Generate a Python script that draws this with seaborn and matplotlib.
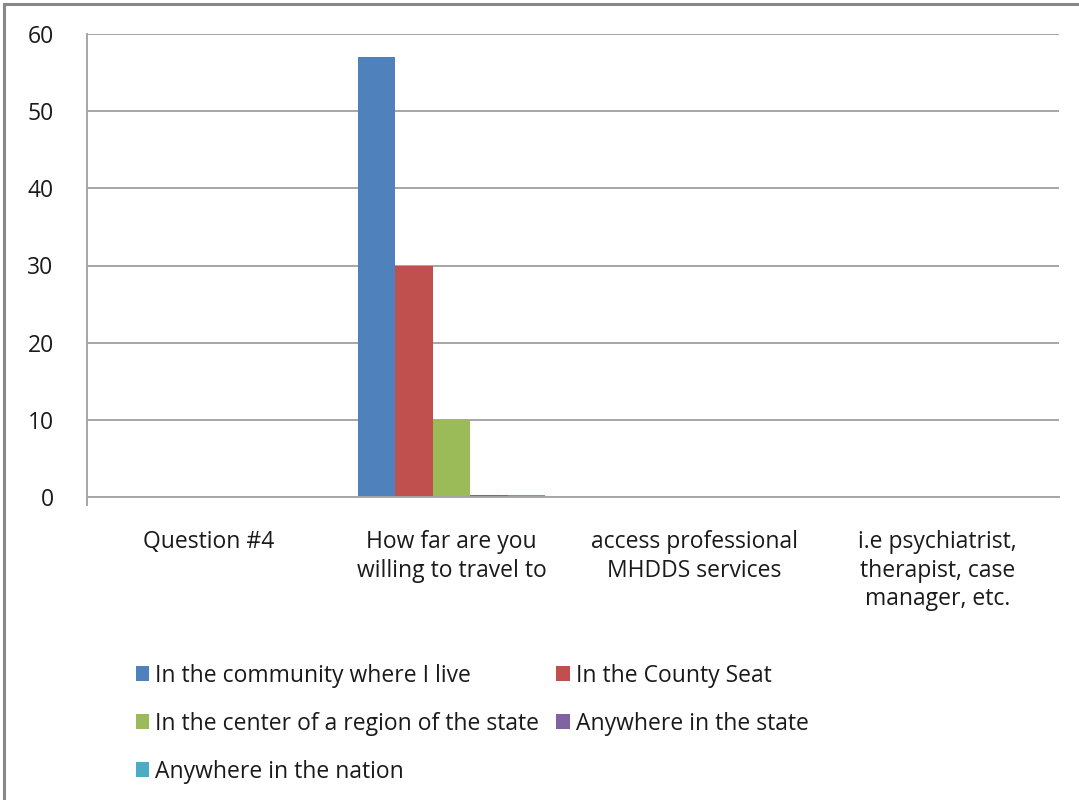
import matplotlib
matplotlib.use("Agg")
import matplotlib.pyplot as plt
from matplotlib.patches import Rectangle
from matplotlib.ticker import FixedLocator
import seaborn as sns
import pandas as pd

questions = [
    "Question #4",
    "How far are you\nwilling to travel to",
    "access professional\nMHDDS services",
    "i.e psychiatrist,\ntherapist, case\nmanager, etc.",
]
options = [
    "In the community where I live",
    "In the County Seat",
    "In the center of a region of the state",
    "Anywhere in the state",
    "Anywhere in the nation",
]
colors = ["#4F81BD", "#C0504D", "#9BBB59", "#8064A2", "#4BACC6"]
# responses per option for each question line
community = [0, 57, 0, 0]
county_seat = [0, 30, 0, 0]
region_center = [0, 10, 0, 0]
anywhere_state = [0, 0.2, 0, 0]
anywhere_nation = [0, 0.2, 0, 0]
y_ticks = [0, 10, 20, 30, 40, 50, 60]

series = [community, county_seat, region_center, anywhere_state, anywhere_nation]
rows = []
for opt, vals in zip(options, series):
    for q, v in zip(questions, vals):
        rows.append({"question": q, "option": opt, "count": v})
df = pd.DataFrame(rows)

sns.set_style("white")
plt.rcParams["font.family"] = ["Open Sans", "DejaVu Sans"]
FS = 16.5
TXT = "#1a1a1a"

fig = plt.figure(figsize=(10.79, 8.0), dpi=100)
ax = fig.add_axes([87 / 1079, 1 - 497 / 800, (1059 - 87) / 1079, (497 - 34) / 800])

sns.barplot(data=df, x="question", y="count", hue="option", order=questions,
            hue_order=options, palette=colors, saturation=1, width=0.77,
            linewidth=0, ax=ax)

grid_c = "#a6a6a6"
ax.set_ylim(0, 60)
ax.set_xlim(-0.5, len(questions) - 0.5)
ax.set_yticks(y_ticks)
ax.set_yticklabels([str(t) for t in y_ticks], fontsize=FS, color=TXT)
ax.yaxis.grid(True, color=grid_c, linewidth=1.4)
ax.set_axisbelow(True)
ax.tick_params(axis="y", length=0, pad=24)

ax.set_xticks(range(len(questions)))
ax.set_xticklabels(questions, fontsize=FS, color=TXT, linespacing=1.25,
                   va="top")
ax.tick_params(axis="x", which="major", length=0, pad=24)
ax.xaxis.set_minor_locator(FixedLocator([i - 0.5 for i in range(len(questions) + 1)]))
ax.tick_params(axis="x", which="minor", length=8, width=1.4, color=grid_c)

for side in ["top", "right"]:
    ax.spines[side].set_visible(False)
for side in ["left", "bottom"]:
    ax.spines[side].set_color(grid_c)
    ax.spines[side].set_linewidth(1.4)
ax.spines["left"].set_bounds(-1.0, 60)
ax.set_xlabel("")
ax.set_ylabel("")

# legend laid out row by row across two columns
handles, labels = ax.get_legend_handles_labels()
order = [0, 2, 4, 1, 3]
ax.legend([handles[i] for i in order], [labels[i] for i in order],
          loc="upper left", bbox_to_anchor=(115 / 1079, 1 - 643 / 800),
          bbox_transform=fig.transFigure, ncol=2, frameon=False,
          fontsize=FS, handlelength=0.6, handleheight=0.6,
          handletextpad=0.25, columnspacing=0.75, labelspacing=1.05,
          labelcolor=TXT)

fig.patches.append(Rectangle((4 / 1079, -0.05), 1.2, 1 - 4 / 800 + 0.05,
                             transform=fig.transFigure, fill=False,
                             edgecolor="#888888", linewidth=2.2))

fig.savefig("out.png", dpi=100)
